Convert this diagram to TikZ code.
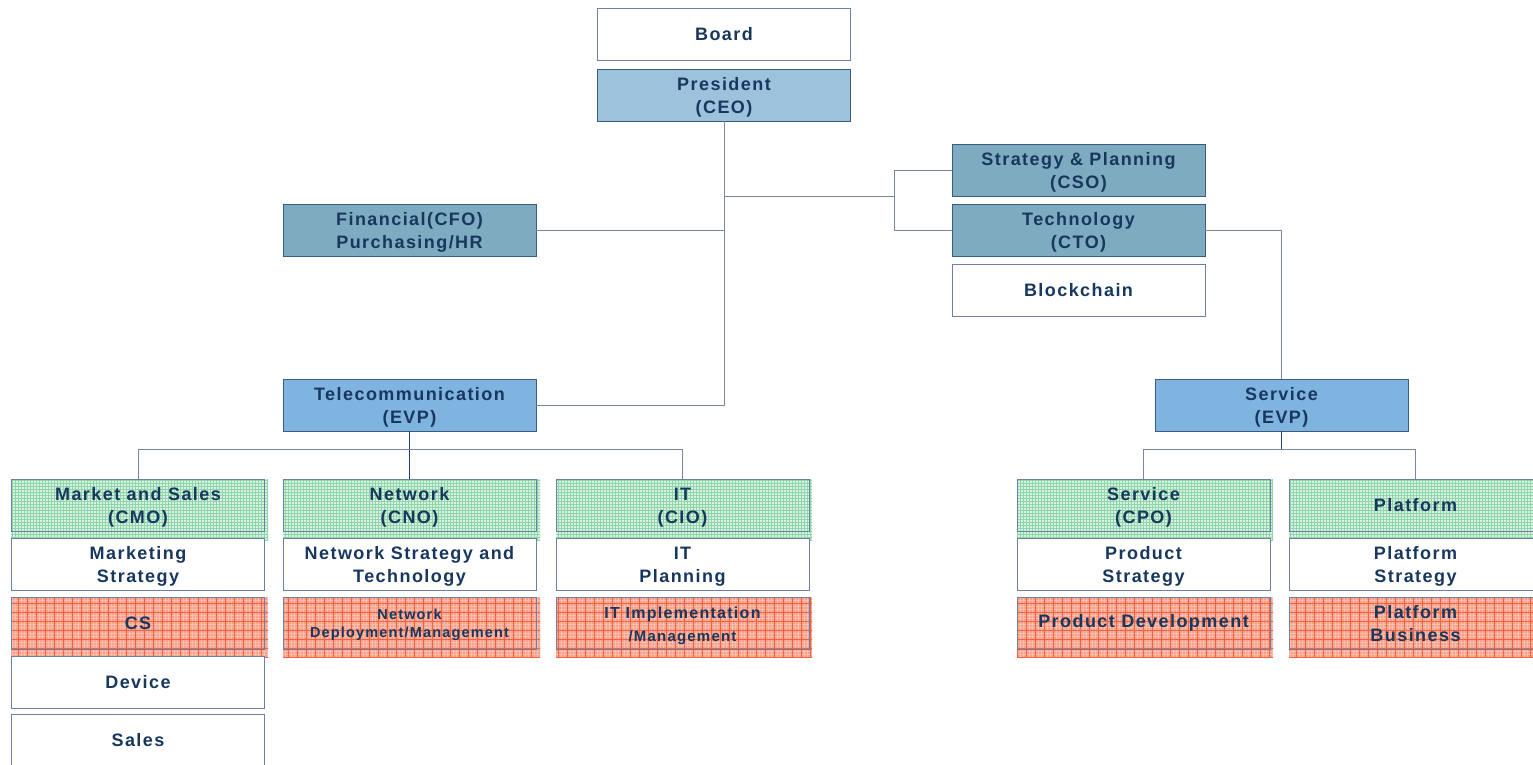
\documentclass[tikz,border=0pt]{standalone}
\usepackage{fontspec}
\setmainfont{Liberation Sans}[LetterSpace=8]
\definecolor{txt}{HTML}{17375E}
\definecolor{bwhite}{HTML}{6D7FA3}
\definecolor{bdark}{HTML}{3B5B84}
\definecolor{cceo}{HTML}{9DC3DC}
\definecolor{cchief}{HTML}{7EABBF}
\definecolor{cevp}{HTML}{80B4E0}
\definecolor{gbase}{HTML}{D8F1E1}
\definecolor{gline}{HTML}{8ED5A9}
\definecolor{rbase}{HTML}{F7A08A}
\definecolor{rline}{HTML}{F2643F}
\definecolor{lgray}{HTML}{7886A8}
\definecolor{lnavy}{HTML}{203F74}
\tikzset{
  box/.style={draw=bwhite, line width=0.9pt, minimum width=253pt, minimum height=52pt,
    inner sep=0pt, align=center, text=txt, font=\fontsize{18}{23}\selectfont\bfseries},
  two/.style={text height=37pt, text depth=0pt},
  dbox/.style={box, draw=bdark},
  conn/.style={draw=lgray, line width=0.9pt},
  nconn/.style={draw=lnavy, line width=0.9pt},
}
\newcommand\patgreen[4]{%
  \begin{scope}
    \clip (#1,#2) rectangle (#3,#4);
    \fill[gbase] (#1,#2) rectangle (#3,#4);
    \draw[gline, line width=0.6pt, step=3pt] (#1-1,#2-1) grid (#3+1,#4+1);
  \end{scope}}
\newcommand\patred[4]{%
  \begin{scope}
    \clip (#1,#2) rectangle (#3,#4);
    \fill[rbase] (#1,#2) rectangle (#3,#4);
    \draw[white, opacity=0.3, line width=0.6pt, step=3pt] (#1-1,#2-1) grid (#3+1,#4+1);
    \draw[rline, line width=1pt, step=9pt] (#1-1,#2-1) grid (#3+1,#4+1);
  \end{scope}}
\begin{document}
\begin{tikzpicture}[x=1pt,y=-1pt]
\useasboundingbox (0,0) rectangle (1533,764);
\fill[white] (0,0) rectangle (1533,764);

% patterns (drawn first)
\patgreen{11}{479}{268}{540}
\patgreen{283}{479}{540}{540}
\patgreen{556}{479}{812}{540}
\patgreen{1017}{479}{1273}{540}
\patgreen{1289}{479}{1545}{540}
\patred{11}{597}{268}{657}
\patred{283}{597}{540}{657}
\patred{556}{597}{812}{657}
\patred{1017}{597}{1273}{657}
\patred{1289}{597}{1545}{657}

% top
\node[box, fill=white] (board) at (724,34) {Board};
\node[dbox, two, fill=cceo] (ceo) at (724,95) {President\\(CEO)};
\node[dbox, two, fill=cchief] (cfo) at (409.5,230) {Financial(CFO)\\Purchasing/HR};
\node[dbox, two, fill=cchief] (cso) at (1078.5,170) {Strategy \& Planning\\(CSO)};
\node[dbox, two, fill=cchief] (cto) at (1078.5,230) {Technology\\(CTO)};
\node[box, fill=white] (block) at (1078.5,290) {Blockchain};
\node[dbox, two, fill=cevp] (tel) at (409.5,405) {Telecommunication\\(EVP)};
\node[dbox, two, fill=cevp] (sevp) at (1281.5,405) {Service\\(EVP)};

% row 1
\node[box, two] (cmo) at (138,505) {Market and Sales\\(CMO)};
\node[box, two] (cno) at (409.5,505) {Network\\(CNO)};
\node[box, two] (cio) at (682.5,505) {IT\\(CIO)};
\node[box, two] (cpo) at (1143.5,505) {Service\\(CPO)};
\node[box] (plat) at (1415.5,505) {Platform};
% row 2
\node[box, two, fill=white] (mstrat) at (138,564) {Marketing\\Strategy};
\node[box, two, fill=white] (nstrat) at (409.5,564) {Network Strategy and\\Technology};
\node[box, two, fill=white] (itplan) at (682.5,564) {IT\\Planning};
\node[box, two, fill=white] (pstrat) at (1143.5,564) {Product\\Strategy};
\node[box, two, fill=white] (platstrat) at (1415.5,564) {Platform\\Strategy};
% row 3
\node[box] (cs) at (138,623) {CS};
\node[box, font=\fontsize{14.5}{18}\selectfont\bfseries, text height=28.5pt, text depth=0pt] (ndep) at (409.5,623) {Network\\Deployment/Management};
\node[box, font=\fontsize{16}{23}\selectfont\bfseries, text height=37pt, text depth=0pt] (itimp) at (682.5,623) {IT Implementation\\{\fontsize{15}{23}\selectfont /Management}};
\node[box] (pdev) at (1143.5,623) {Product Development};
\node[box, two] (platbus) at (1415.5,623) {Platform\\Business};
% row 4-5
\node[box, fill=white] (device) at (138,682) {Device};
\node[box, fill=white] (sales) at (138,740) {Sales};

% connectors
\coordinate (j1) at (ceo.south |- tel.east);
\coordinate (j2) at (ceo.south |- 0,196);
\coordinate (j3) at (894,196);
\coordinate (j4) at (sevp.south |- 0,449);
\coordinate (j5) at (tel.south |- 0,449);
\draw[conn] (ceo.south) -- (j1) -- (tel.east);
\draw[conn] (cfo.east) -- (ceo.south |- cfo.east);
\draw[conn] (j2) -- (j3);
\draw[conn] (j3) |- (cso.west);
\draw[conn] (j3) |- (cto.west);
\draw[conn] (cto.east) -| (sevp.north);
\draw[nconn] (sevp.south) -- (j4);
\draw[conn] (cpo.north) |- (j4) -| (plat.north);
\draw[nconn] (tel.south) -- (cno.north);
\draw[conn] (cmo.north) |- (j5) -| (cio.north);
\end{tikzpicture}
\end{document}
